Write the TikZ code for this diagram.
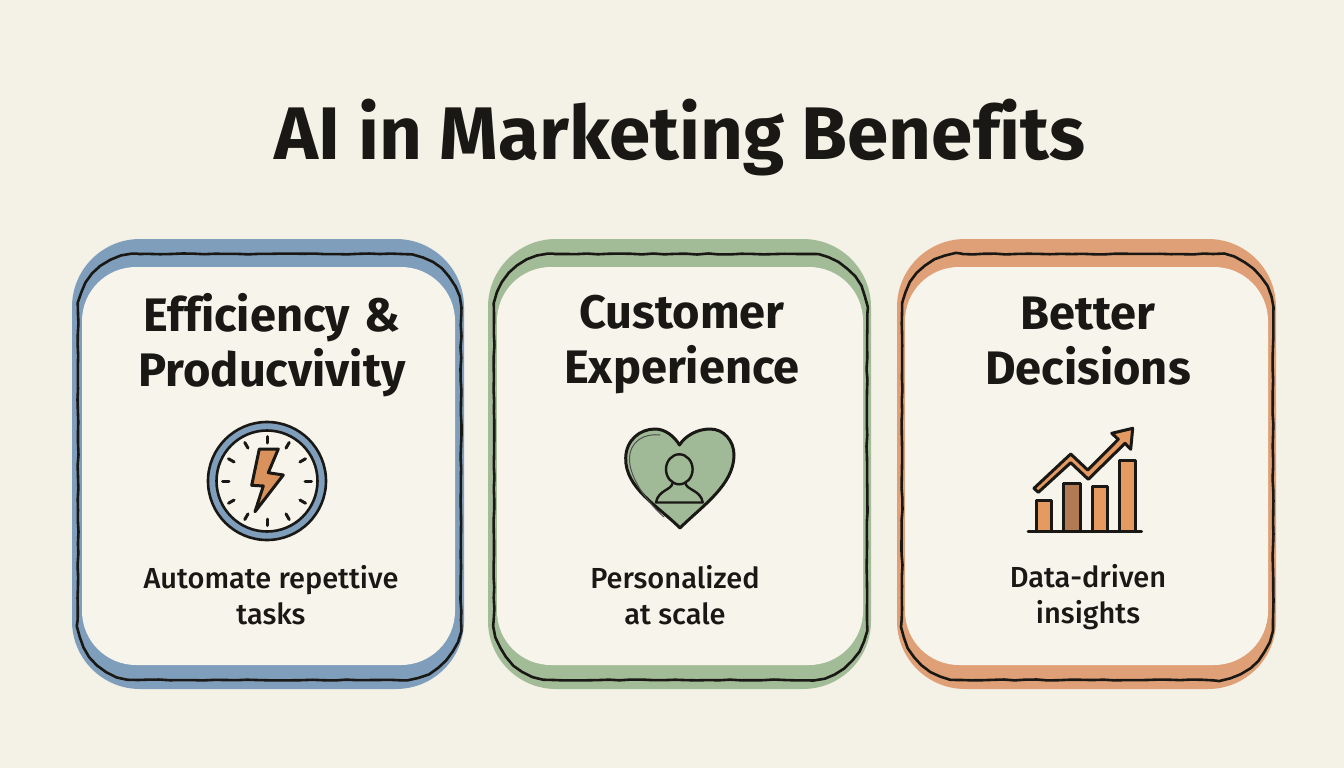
\documentclass[tikz,border=0pt]{standalone}
\usepackage{fontspec}
\setmainfont{Fira Sans}[Ligatures=NoCommon]
\newfontfamily\bodyfont{Fira Sans Medium}[Ligatures=NoCommon]
\usetikzlibrary{decorations.pathmorphing}
\definecolor{paper}{HTML}{F4F1E7}
\definecolor{panelc}{HTML}{F7F4EC}
\definecolor{ink}{HTML}{1A1815}
\definecolor{bluec}{HTML}{7F9EBB}
\definecolor{greenc}{HTML}{A3BC98}
\definecolor{orangec}{HTML}{E0A077}
\definecolor{barc}{HTML}{E59A62}
\definecolor{bardark}{HTML}{B27A52}
\definecolor{heartc}{HTML}{A0B996}
\tikzset{
  band/.style={fill=#1,draw=none},
  innerpanel/.style={fill=panelc,draw=none},
  sketchline/.style={draw=ink,line width=2.6pt,line join=round,decorate,decoration={random steps,segment length=11pt,amplitude=.5pt}},
  iconline/.style={draw=ink,line width=3pt,line join=round,line cap=round},
  heading/.style={text=ink,align=center,font=\bfseries\fontsize{47}{55}\selectfont,inner sep=0pt},
  body/.style={text=ink,align=center,font=\bodyfont\fontsize{29}{36}\selectfont,inner sep=0pt},
  titletext/.style={text=ink,font=\bfseries\fontsize{74.5}{90}\selectfont,inner sep=0pt,anchor=base}
}
\newcommand{\sketchbox}[4]{%
  \draw[sketchline] ({#1+60},#2) -- ({#3-60},#2)
    .. controls ({#3-27},#2) and (#3,{#2+27}) .. (#3,{#2+60})
    -- (#3,{#4-60})
    .. controls (#3,{#4-27}) and ({#3-27},#4) .. ({#3-60},#4)
    -- ({#1+60},#4)
    .. controls ({#1+27},#4) and (#1,{#4-27}) .. (#1,{#4-60})
    -- (#1,{#2+60})
    .. controls (#1,{#2+27}) and ({#1+27},#2) .. ({#1+60},#2) -- cycle;}
\begin{document}
\begin{tikzpicture}[x=1pt,y=-1pt]
\pgfmathsetseed{7}
\useasboundingbox (0,0) rectangle (1344,768);
\fill[paper] (0,0) rectangle (1344,768);
\node[titletext] (title) at (680,159) {AI in Marketing Benefits};
% panels
\fill[band=bluec,rounded corners=68pt] (72,239) rectangle (464,689);
\fill[innerpanel,rounded corners=54pt] (82,267) rectangle (455,665);
\sketchbox{78}{254}{461}{680}
\fill[band=greenc,rounded corners=68pt] (488,239) rectangle (871,689);
\fill[innerpanel,rounded corners=54pt] (497,267) rectangle (863,665);
\sketchbox{494}{254}{867}{680}
\fill[band=orangec,rounded corners=68pt] (897,239) rectangle (1276,689);
\fill[innerpanel,rounded corners=54pt] (905,267) rectangle (1268,665);
\sketchbox{902}{254}{1273}{680}
% headings
\node[heading] (h1) at (272,345) {Efficiency\hspace{3pt} \&\\Producvivity};
\node[heading] (h2) at (682,345) {Customer\\Experience};
\node[heading] (h3) at (1088,341) {Better\\Decisions};
\node[body] (b1) at (271,595) {Automate repettive\\tasks};
\node[body] (b2) at (675,595) {Personalized\\at scale};
\node[body] (b3) at (1088,597) {Data-driven\\insights};
% clock
\draw[iconline,line width=2.6pt,fill=bluec] (267,481) circle[radius=59];
\draw[iconline,line width=2.6pt,fill=panelc] (267,481) circle[radius=50.5];
\foreach \a in {0,30,...,330}
  \draw[iconline] (267,481) ++(\a:38) -- ++(\a:6.5);
\draw[iconline,fill=barc!95!black] (259.3,449) -- (278.3,449) -- (268.3,472.7) -- (283.3,475) -- (255,511.7) -- (263.3,486) -- (251.7,485.3) -- cycle;
% heart
\draw[iconline,fill=heartc] (680,528) .. controls (658,506) and (625,488) .. (625.7,458) .. controls (626,440) and (640,429) .. (655,429) .. controls (665,429) and (674,436) .. (679.5,445) .. controls (685,436) and (697,429) .. (710,429) .. controls (724,429) and (734,441) .. (734,455) .. controls (734,485) and (702,506) .. (680,528) -- cycle;
\draw[draw=ink!75,line width=1pt,line cap=round] (660,435) .. controls (645,433) and (629,441) .. (629.5,460) .. controls (630,480) and (650,505) .. (664,517);
\draw[draw=ink,line width=2.4pt] (679.3,469.3) ellipse[x radius=13.3,y radius=15];
\draw[draw=ink,line width=2.4pt,line join=round] (672.5,483) .. controls (672,490) and (658,490) .. (656,502.5) -- (702.7,502.5) .. controls (701,490) and (686,490) .. (685.5,483);
% chart
\draw[iconline,fill=barc] (1036.7,531.7) -- (1036.7,500.7) -- (1051.7,500.7) -- (1051.7,531.7);
\draw[iconline,fill=bardark] (1063.3,531.7) -- (1063.3,483.3) -- (1080,483.3) -- (1080,531.7);
\draw[iconline,fill=barc] (1092.3,531.7) -- (1092.3,486) -- (1107.7,486) -- (1107.7,531.7);
\draw[iconline,fill=barc] (1119.3,531.7) -- (1119.3,460) -- (1135.7,460) -- (1135.7,531.7);
\draw[iconline] (1028,531.7) -- (1141.7,531.7);
\draw[iconline,fill=barc] (1034,488.3) -- (1070.7,454) -- (1087.7,470) -- (1118.3,439.3) -- (1111.7,433.3) -- (1132.7,428.3) -- (1130.7,449.3) -- (1125,443.3) -- (1088.3,479.3) -- (1070.7,462.7) -- (1038.3,492.3) -- cycle;
\end{tikzpicture}
\end{document}
